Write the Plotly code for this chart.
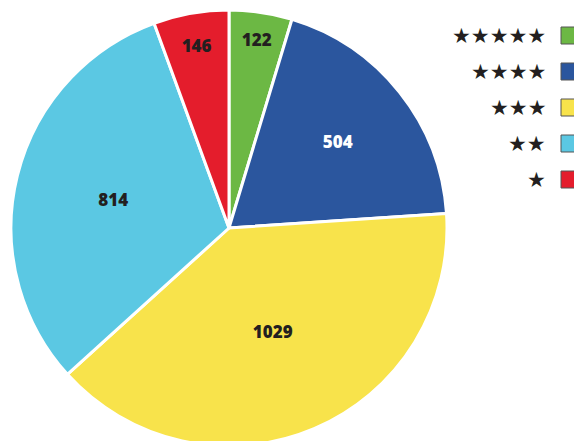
import plotly.graph_objects as go

W, H = 574, 456  # window is 441 tall; pie bottom is cut off like the reference

categories = ["★★★★★", "★★★★", "★★★", "★★", "★"]
values = [122, 504, 1029, 814, 146]
colors = ["#6cb844", "#2b569e", "#f8e34b", "#5bc8e3", "#e41d2c"]
text_colors = ["#231f20", "#ffffff", "#231f20", "#231f20", "#231f20"]

# pie geometry (pixels)
cx, cy, r = 229, 228, 218
fig = go.Figure(
    go.Pie(
        labels=categories,
        values=values,
        sort=False,
        direction="clockwise",
        rotation=0,
        marker=dict(colors=colors, line=dict(color="white", width=3)),
        textinfo="value",
        textposition="inside",
        insidetextorientation="horizontal",
        textfont=dict(family="Open Sans", size=17, color=text_colors, weight=800),
        showlegend=False,
        hoverinfo="label+value",
        domain=dict(x=[(cx - r) / W, (cx + r) / W], y=[0, 1]),
    )
)

# legend: star labels on the left, colored squares on the right
row0, step, sq = 35.5, 36, 17
shapes, annotations = [], []
for i, (cat, col) in enumerate(zip(categories, colors)):
    yc = row0 + step * i
    shapes.append(dict(
        type="rect", xref="paper", yref="paper",
        x0=561 / W, x1=(561 + sq) / W,
        y0=1 - (yc + sq / 2) / H, y1=1 - (yc - sq / 2) / H,
        fillcolor=col, line=dict(color="#555555", width=1),
    ))
    annotations.append(dict(
        text=cat, xref="paper", yref="paper",
        x=548 / W, y=1 - yc / H, xanchor="right", yanchor="middle",
        showarrow=False, font=dict(family="DejaVu Sans", size=21, color="#231f20"),
    ))

fig.update_layout(
    width=W, height=H,
    margin=dict(l=0, r=0, t=0, b=0),
    paper_bgcolor="white", plot_bgcolor="white",
    shapes=shapes, annotations=annotations,
)

fig.write_html(
    "out.html",
    config={"displayModeBar": False},
    post_script="document.body.style.margin='0';document.body.style.overflow='hidden';",
)
